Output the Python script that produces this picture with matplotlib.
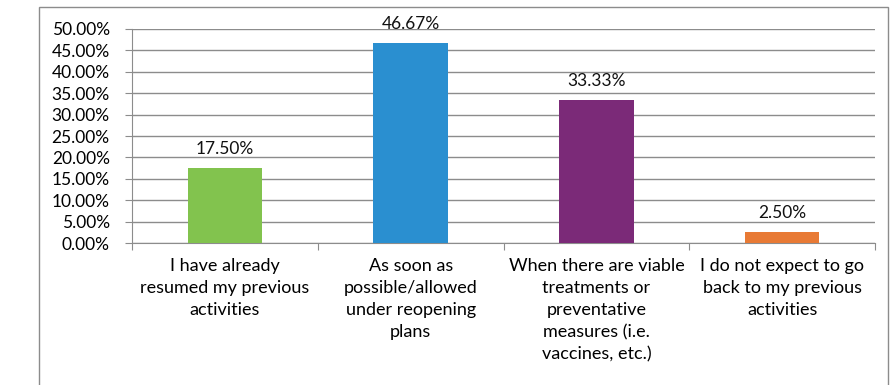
import numpy as np
import matplotlib.pyplot as plt
from matplotlib.patches import Rectangle
from matplotlib.ticker import FixedLocator, NullFormatter

categories = [
    "I have already\nresumed my previous\nactivities",
    "As soon as\npossible/allowed\nunder reopening\nplans",
    "When there are viable\ntreatments or\npreventative\nmeasures (i.e.\nvaccines, etc.)",
    "I do not expect to go\nback to my previous\nactivities",
]
values = [17.50, 46.67, 33.33, 2.50]
colors = ["#82c34e", "#2a8fd0", "#7b2a78", "#e87a35"]
yticks = np.arange(0, 55, 5)

font = ["Lato", "DejaVu Sans"]

fig = plt.figure(figsize=(8.95, 3.85), dpi=100)
ax = fig.add_axes([0.1475, 0.3688, 0.8302, 0.5559])

x = np.arange(len(values))
ax.bar(x, values, width=0.4, color=colors, zorder=3)
for xi, v in zip(x, values):
    ax.text(xi, v + 2.7, f"{v:.2f}%", ha="center", va="bottom",
            fontsize=12.5, family=font, color="#111111")

ax.set_xlim(-0.5, len(values) - 0.5)
ax.set_ylim(0, 50)
ax.set_yticks(yticks)
ax.set_yticklabels([f"{t:.2f}%" for t in yticks], family=font, fontsize=12.5)
ax.grid(axis="y", color="#8c8c8c", linewidth=1.0, zorder=0)

# category ticks at boundaries, labels at centers
ax.xaxis.set_major_locator(FixedLocator(np.arange(len(values) + 1) - 0.5))
ax.xaxis.set_major_formatter(NullFormatter())
ax.xaxis.set_minor_locator(FixedLocator(x))
ax.set_xticklabels(categories, minor=True, family=font, fontsize=13,
                   linespacing=1.45)
ax.tick_params(axis="x", which="minor", length=0, pad=11)
ax.tick_params(axis="x", which="major", length=5, color="#8c8c8c", direction="out")
ax.tick_params(axis="y", length=5, color="#8c8c8c", pad=11)

for s in ["top", "right"]:
    ax.spines[s].set_visible(False)
ax.spines["left"].set_color("#8c8c8c")
ax.spines["bottom"].set_color("#8c8c8c")

# outer chart border
fig.add_artist(Rectangle((39 / 895, -0.05), (888 - 39) / 895, 1.05 - 7 / 385,
                         transform=fig.transFigure, fill=False,
                         edgecolor="#8c8c8c", linewidth=1.0))

fig.savefig("out.png", dpi=100)
